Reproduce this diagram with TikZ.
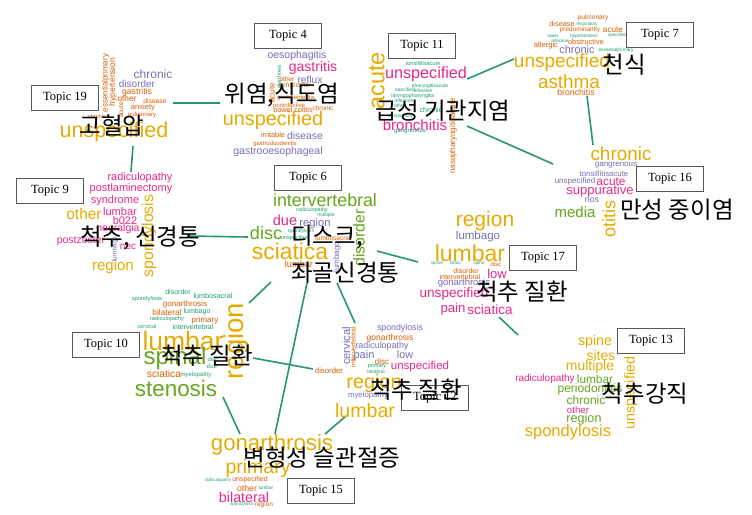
\documentclass[tikz,border=0pt]{standalone}
\usepackage{fontspec}
\setmainfont{Liberation Serif}
\newfontfamily\wcfont{Liberation Sans}
\newfontfamily\krfont{Noto Sans CJK KR}
\usetikzlibrary{positioning}
\definecolor{cgold}{RGB}{230, 171, 2}
\definecolor{cpink}{RGB}{231, 41, 138}
\definecolor{cpurp}{RGB}{117, 112, 179}
\definecolor{corng}{RGB}{217, 95, 2}
\definecolor{cteal}{RGB}{27, 158, 119}
\definecolor{clime}{RGB}{102, 166, 30}
\definecolor{linkgreen}{RGB}{40, 150, 112}

\begin{document}
\begin{tikzpicture}[x=1pt, y=-1pt]
    \tikzstyle{word} = [inner sep=0pt, outer sep=0pt]
    \tikzstyle{topic} = [draw=black!65, line width=0.8pt, fill=white, minimum width=67pt, minimum height=25pt, inner sep=0pt, font=\fontsize{12.5}{12.5}\selectfont]
    \tikzstyle{korean} = [inner sep=0pt, font=\krfont\fontsize{23.5}{37}\selectfont]
    \tikzstyle{link} = [draw=linkgreen, line width=1.6pt]

    \fill[white] (0,0) rectangle (752,514);
    \useasboundingbox (0,0) rectangle (752,514);

    % connector ends
    \coordinate (t19e) at (173,103);  \coordinate (t4w) at (220,103);
    \coordinate (t19s) at (133,146);  \coordinate (t9n) at (131,172);
    \coordinate (t11e) at (467,79);   \coordinate (t7w) at (514,59);
    \coordinate (t11se) at (467,126); \coordinate (t16nw) at (553,164);
    \coordinate (t7s) at (587,96);    \coordinate (t16n) at (593,145);
    \coordinate (t9e) at (187,236);   \coordinate (t6w) at (248,237);
    \coordinate (t6e) at (377,251);   \coordinate (t17w) at (418,262);
    \coordinate (t6sw) at (271,282);  \coordinate (t10ne) at (249,303);
    \coordinate (t6s) at (307,283);   \coordinate (t15n) at (275,434);
    \coordinate (t6se) at (337,283);  \coordinate (t12n) at (355,323);
    \coordinate (t10e) at (253,358);  \coordinate (t12w) at (313,369);
    \coordinate (t10s) at (223,397);  \coordinate (t15nw) at (240,434);
    \coordinate (t12s) at (346,416);  \coordinate (t15ne) at (325,434);
    \coordinate (t17s) at (499,317);  \coordinate (t13nw) at (518,335);

    \foreach \a/\b in {t19e/t4w, t19s/t9n, t11e/t7w, t11se/t16nw, t7s/t16n, t9e/t6w, t6e/t17w,
                       t6sw/t10ne, t6s/t15n, t6se/t12n, t10e/t12w, t10s/t15nw, t12s/t15ne, t17s/t13nw}
        \path [link] (\a) -- (\b);

    % word clouds: x/y/size/colour/rotation/word
    \foreach \x/\y/\fs/\col/\rot/\txt [count=\i] in {
        114/132/21.5/cgold/0/unspecified, 153/74/12/cpurp/0/chronic, 137/84/10/cpurp/0/disorder,
        137/92/8.7/corng/0/gastritis, 127/99/8.3/corng/0/other, 155/101/6.7/corng/0/disease,
        143/108/7.6/corng/0/anxiety, 142/115/6/corng/0/pulmonary, 97/117/5.5/corng/0/chronic,
        105.5/83/8/corng/90/essentialprimary, 113/82/8.5/corng/90/hypertension, 121/110/6.5/corng/90/acute}
        \node [word, text=\col, rotate=\rot, font={\wcfont\fontsize{\fs}{\fs}\selectfont}] (w19-\i) at (\x,\y) {\txt};

    \foreach \x/\y/\fs/\col/\rot/\txt [count=\i] in {
        273/120/19.8/cgold/0/unspecified, 297/56/10.5/cpurp/0/oesophagitis, 313/68/14/cpink/0/gastritis,
        310/80/10.2/cpurp/0/reflux, 287/79/6.5/corng/0/other, 294/86/7/corng/0/syndrome,
        296/98/6/corng/0/gastroenteritis, 289/105/6/corng/0/noninfective, 293/110/7.3/corng/0/{bowel colitis},
        323/108/6.5/corng/0/chronic, 273/135/7.3/corng/0/irritable, 305/136/10.4/cpurp/0/disease,
        275/144/5.9/corng/0/gastroduodenitis, 278/152/10.5/cpurp/0/gastrooesophageal,
        272/93/8/corng/90/acute, 279/77/5.5/cteal/90/diarrhoea}
        \node [word, text=\col, rotate=\rot, font={\wcfont\fontsize{\fs}{\fs}\selectfont}] (w4-\i) at (\x,\y) {\txt};

    \foreach \x/\y/\fs/\col/\rot/\txt [count=\i] in {
        426/74/16.2/cpink/0/unspecified, 415/125/15/cpink/0/bronchitis, 377/81/23.5/cgold/90/acute,
        423/64/5.5/cteal/0/tonsillitisacute, 430/86/5/cteal/0/pharyngitisacute, 423/91/5/cteal/0/infective,
        405/90/5/cteal/0/specified, 413/96/5.3/cteal/0/laryngopharyngitis, 404/101/5/cteal/0/infection,
        431/110/7/cteal/0/chronic, 400/106/5/cteal/0/other, 401/116/5/cteal/0/respiratory,
        410/132/6/cteal/0/gangrenous, 453/136/8/corng/90/nasopharyngitisacute}
        \node [word, text=\col, rotate=\rot, font={\wcfont\fontsize{\fs}{\fs}\selectfont}] (w11-\i) at (\x,\y) {\txt};

    \foreach \x/\y/\fs/\col/\rot/\txt [count=\i] in {
        562/63/19/cgold/0/unspecified, 569/82/18.9/cgold/0/asthma, 576/92/8.7/corng/0/bronchitis,
        577/50/10.9/cpurp/0/chronic, 546/46/7.6/corng/0/allergic, 586/42/7.4/corng/0/obstructive,
        580/30/6.4/corng/0/predominantly, 613/30/8.2/corng/0/acute, 562/24/7.3/corng/0/disease,
        593/18/6.6/corng/0/pulmonary, 587/24/4.5/cteal/0/respiratory, 553/36/4.5/cteal/0/lower,
        584/36/4.8/cteal/0/hypertension, 617/35/4.5/cteal/0/specified, 560/41/4.5/cteal/0/infection,
        616/50/4.8/cteal/0/essentialprimary}
        \node [word, text=\col, rotate=\rot, font={\wcfont\fontsize{\fs}{\fs}\selectfont}] (w7-\i) at (\x,\y) {\txt};

    \foreach \x/\y/\fs/\col/\rot/\txt [count=\i] in {
        621/154/18.9/cgold/0/chronic, 616/165/8/cpurp/0/gangrenous, 604/174/7.8/cpurp/0/tonsillitisacute,
        575/181/8/cpurp/0/unspecified, 611/182/11.9/cpink/0/acute, 600/191/13/cpink/0/suppurative,
        592/200/8.7/cpurp/0/nos, 575/212/15/clime/0/media, 609/219/18/cgold/90/otitis}
        \node [word, text=\col, rotate=\rot, font={\wcfont\fontsize{\fs}{\fs}\selectfont}] (w16-\i) at (\x,\y) {\txt};

    \foreach \x/\y/\fs/\col/\rot/\txt [count=\i] in {
        140/178/10.9/cpink/0/radiculopathy, 131/189/11/cpink/0/postlaminectomy, 115/201/11/cpink/0/syndrome,
        84/214/15.5/cgold/0/other, 120/212/11/cpink/0/lumbar, 125/221/11/cpink/0/b022,
        118/229/10.5/cpink/0/neuralgia, 81/241/10.5/cpink/0/postzoster, 128/247/10/cpink/0/nec,
        113/267/15/cgold/0/region, 149/236/15.7/cgold/90/spondylosis, 115/249/6.5/cpurp/90/lumbago}
        \node [word, text=\col, rotate=\rot, font={\wcfont\fontsize{\fs}{\fs}\selectfont}] (w9-\i) at (\x,\y) {\txt};

    \foreach \x/\y/\fs/\col/\rot/\txt [count=\i] in {
        325/200/17.8/clime/0/intervertebral, 312/210/5.3/cteal/0/radiculopathy, 326/215/5/cteal/0/multiple,
        285/220/14.5/cpink/0/due, 315/224/11.2/cpurp/0/region, 266/233/18/clime/0/disc,
        290/251/22.8/cgold/0/sciatica, 299/264/9.2/corng/0/lumbar, 301/231/5/cteal/0/spondylosis,
        295/238/5.5/cteal/0/unspecified, 333/238/6.5/corng/0/lumbosacral,
        337/257/8/cpurp/90/lumbago, 359/238/15.8/clime/90/disorder}
        \node [word, text=\col, rotate=\rot, font={\wcfont\fontsize{\fs}{\fs}\selectfont}] (w6-\i) at (\x,\y) {\txt};

    \foreach \x/\y/\fs/\col/\rot/\txt [count=\i] in {
        485/221/21/cgold/0/region, 478/237/11.5/cpurp/0/lumbago, 470/253/23/cgold/0/lumbar,
        437/263/4.5/cteal/0/sprain, 455/263/4.5/cteal/0/strain, 479/263/4.5/cteal/0/spine,
        496/264/6/corng/0/disc, 466/271/7/corng/0/disorder, 460/277/7/corng/0/intervertebral,
        497/274/13/cpink/0/low, 464/283/9.5/cpurp/0/gonarthrosis, 454/294/13.6/cpink/0/unspecified,
        453/309/13.2/cpink/0/pain, 490/310/13.5/cpink/0/sciatica}
        \node [word, text=\col, rotate=\rot, font={\wcfont\fontsize{\fs}{\fs}\selectfont}] (w17-\i) at (\x,\y) {\txt};

    \foreach \x/\y/\fs/\col/\rot/\txt [count=\i] in {
        178/292/7/cteal/0/disorder, 213/296/7.2/cteal/0/lumbosacral, 147/299/5.8/cteal/0/spondylosis,
        185/304/8/corng/0/gonarthrosis, 167/313/8.3/corng/0/bilateral, 197/312/7/cteal/0/lumbago,
        167/319/5.7/cteal/0/radiculopathy, 205/320/8/corng/0/primary, 147/327/5.5/cteal/0/cervical,
        193/327/7/cteal/0/intervertebral, 183/341/26.5/cgold/0/lumbar, 175/358/24/clime/0/spinal,
        164/374/10.2/corng/0/sciatica, 196/375/6/cteal/0/myelopathy, 176/388/22.4/clime/0/stenosis,
        213/359/6/cteal/0/disc, 212/366/6/cteal/0/due, 236/341/27.5/cgold/90/region}
        \node [word, text=\col, rotate=\rot, font={\wcfont\fontsize{\fs}{\fs}\selectfont}] (w10-\i) at (\x,\y) {\txt};

    \foreach \x/\y/\fs/\col/\rot/\txt [count=\i] in {
        400/328/8.8/cpurp/0/spondylosis, 390/338/8.5/corng/0/gonarthrosis, 382/346/8.9/cpurp/0/radiculopathy,
        364/356/11/cpurp/0/pain, 405/355/10.7/cpurp/0/low, 382/362/8/corng/0/disc,
        377/366/5.5/cteal/0/primary, 376/372/5/cteal/0/bilateral, 420/367/11.5/cpink/0/unspecified,
        329/371/7.8/corng/0/disorder, 346/346/11.2/cpurp/90/cervical, 353/347/7/corng/90/intervertebral,
        374/383/19.8/cgold/0/region, 368/395/7.8/cpurp/0/myelopathy, 365/410/19.6/cgold/0/lumbar}
        \node [word, text=\col, rotate=\rot, font={\wcfont\fontsize{\fs}{\fs}\selectfont}] (w12-\i) at (\x,\y) {\txt};

    \foreach \x/\y/\fs/\col/\rot/\txt [count=\i] in {
        595/342/14.2/cgold/0/spine, 601/355/14/cgold/0/sites, 590/367/14/cgold/0/multiple,
        545/379/10/cpink/0/radiculopathy, 595/379/11.8/clime/0/lumbar, 590/389/12/clime/0/periodontitis,
        586/400/12/clime/0/chronic, 578/410/9.7/cpink/0/other, 584/419/12.6/clime/0/region,
        568/432/16.5/cgold/0/spondylosis, 631/393/14.3/cgold/90/unspecified}
        \node [word, text=\col, rotate=\rot, font={\wcfont\fontsize{\fs}{\fs}\selectfont}] (w13-\i) at (\x,\y) {\txt};

    \foreach \x/\y/\fs/\col/\rot/\txt [count=\i] in {
        272/445/22.2/cgold/0/gonarthrosis, 258/468/19.5/cgold/0/primary, 218/480/4.5/cteal/0/radiculopathy,
        250/480/7/corng/0/unspecified, 247/488/8.7/corng/0/other, 266/488/4.8/cteal/0/lumbar,
        244/497/14.3/cpink/0/bilateral, 242/504/4.5/cteal/0/spondylosis, 264/505/6.5/corng/0/region}
        \node [word, text=\col, rotate=\rot, font={\wcfont\fontsize{\fs}{\fs}\selectfont}] (w15-\i) at (\x,\y) {\txt};

    % topic boxes
    \node [topic] (topic4) at (288,36) {Topic 4};
    \node [topic] (topic19) at (65,98) {Topic 19};
    \node [topic] (topic11) at (422,46) {Topic 11};
    \node [topic] (topic7) at (660,35) {Topic 7};
    \node [topic] (topic16) at (670,179) {Topic 16};
    \node [topic] (topic9) at (50,191) {Topic 9};
    \node [topic] (topic6) at (308,178) {Topic 6};
    \node [topic] (topic17) at (543,258) {Topic 17};
    \node [topic] (topic10) at (106,345) {Topic 10};
    \node [topic] (topic15) at (321,491) {Topic 15};
    \node [topic] (topic13) at (651,341) {Topic 13};
    \node [topic] (topic12) at (435,398) {Topic 12};

    % topic names
    \node [korean] (name19) at (112,125) {고혈압};
    \node [korean] (name4) at (282,95) {위염,식도염};
    \node [korean] (name11) at (443,111) {급성 기관지염};
    \node [korean] (name7) at (624,65) {천식};
    \node [korean] (name16) at (677,210) {만성 중이염};
    \node [korean] (name9) at (140,238) {척추, 신경통};
    \node [korean, align=left, anchor=north west] (name6) at (291,225) {디스크,\\좌골신경통};
    \node [korean] (name17) at (522,292) {척추 질환};
    \node [korean] (name10) at (207,356) {척추 질환};
    \node [korean] (name12) at (416,390) {척추 질환};
    \node [korean] (name13) at (645,394) {척추강직};
    \node [korean] (name15) at (322,458) {변형성 슬관절증};
\end{tikzpicture}
\end{document}
